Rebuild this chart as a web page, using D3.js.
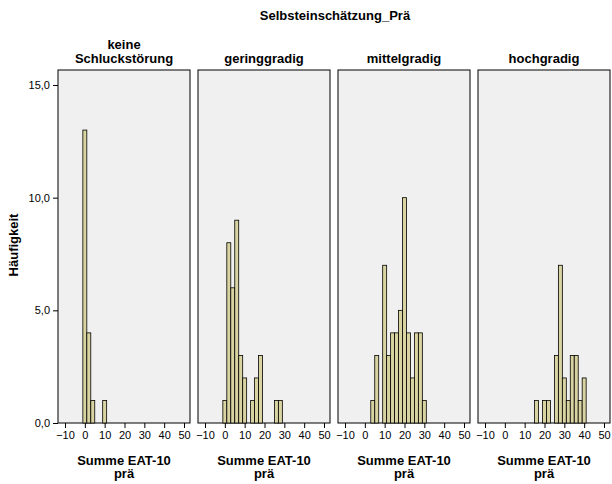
<!DOCTYPE html><html><head><meta charset="utf-8"><script src="https://cdn.jsdelivr.net/npm/d3@7"></script>
<style>body{margin:0;background:#fff}text{font-family:Arial,"Liberation Sans",sans-serif}</style></head><body><svg width="612" height="484"></svg><script>
const panels=["keine\nSchluckstörung","geringgradig","mittelgradig","hochgradig"];
const bins0=[0,2,4,10], vals0=[13,4,1,1];
const bins1=[0,2,4,6,8,10,14,16,18,26,28], vals1=[1,8,6,9,3,2,1,2,3,1,1];
const bins2=[4,6,10,12,14,16,18,20,22,24,26,28,30], vals2=[1,3,7,3,4,4,5,10,4,2,4,4,1];
const bins3=[16,20,22,26,28,30,32,34,36,38,40], vals3=[1,1,1,3,7,2,1,3,3,1,2];
const allBins=[bins0,bins1,bins2,bins3], allVals=[vals0,vals1,vals2,vals3];
const yTicks=[0,5,10,15], xTicks=[-10,0,10,20,30,40,50];
const svg=d3.select("svg");
const pTop=70,bot=423,pw=132,gap=8,left0=58;
const y=d3.scaleLinear().domain([0,15]).range([bot,85]);
svg.append("text").attr("x",335).attr("y",20).attr("text-anchor","middle").attr("font-weight","bold").attr("font-size",13).text("Selbsteinschätzung_Prä");
svg.append("text").attr("transform","translate(18,245) rotate(-90)").attr("text-anchor","middle").attr("font-weight","bold").attr("font-size",13).text("Häufigkeit");
const ya=svg.append("g").attr("transform",`translate(${left0},0)`).call(d3.axisLeft(y).tickValues(yTicks).tickFormat(d=>d.toFixed(1).replace(".",",")).tickSize(5));
ya.select(".domain").remove();ya.selectAll("text").attr("font-size",11).style("font-family","Arial");
panels.forEach((p,i)=>{
 const L=left0+i*(pw+gap);
 const x=d3.scaleLinear().domain([-10,50]).range([L+7,L+126]);
 svg.append("rect").attr("x",L).attr("y",pTop).attr("width",pw).attr("height",bot-pTop).attr("fill","#f0f0f0").attr("stroke","#000").attr("stroke-width",1);
 const lines=p.split("\n");
 lines.forEach((t,k)=>svg.append("text").attr("x",L+pw/2).attr("y",lines.length==2?49+k*14:63).attr("text-anchor","middle").attr("font-weight","bold").attr("font-size",13).text(t));
 svg.append("g").selectAll("rect").data(allBins[i].map((b,k)=>[b,allVals[i][k]])).join("rect")
  .attr("x",d=>x(d[0]-1)).attr("width",d=>x(d[0]+1)-x(d[0]-1)).attr("y",d=>y(d[1])).attr("height",d=>bot-y(d[1]))
  .attr("fill","#d8d3a0").attr("stroke","#000").attr("stroke-width",0.8);
 const xa=svg.append("g").attr("transform",`translate(0,${bot})`).call(d3.axisBottom(x).tickValues(xTicks).tickSize(5));
 xa.select(".domain").remove();xa.selectAll("text").attr("font-size",11).style("font-family","Arial");
 svg.append("text").attr("x",L+pw/2).attr("y",465).attr("text-anchor","middle").attr("font-weight","bold").attr("font-size",13).text("Summe EAT-10");
 svg.append("text").attr("x",L+pw/2).attr("y",478).attr("text-anchor","middle").attr("font-weight","bold").attr("font-size",13).text("prä");
});
</script></body></html>
